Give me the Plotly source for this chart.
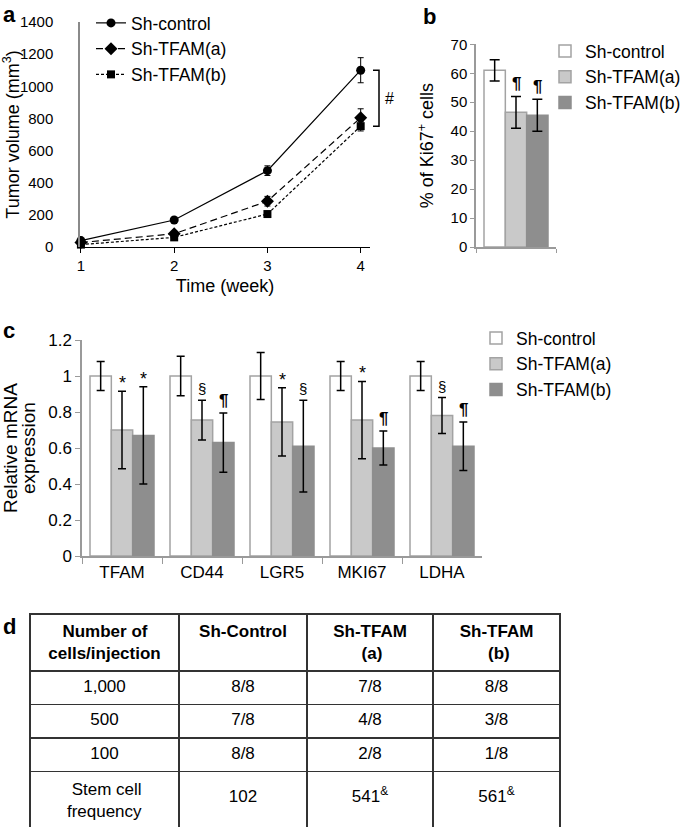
import plotly.graph_objects as go

# ---------------- data ----------------
weeks = [1, 2, 3, 4]
vol_ctrl = [40, 168, 475, 1100]
vol_ctrl_err = [10, 14, 30, 78]
vol_a = [28, 82, 285, 805]
vol_a_err = [8, 12, 30, 55]
vol_b = [15, 60, 205, 752]
vol_b_err = [5, 8, 12, 30]

groups = ["Sh-control", "Sh-TFAM(a)", "Sh-TFAM(b)"]
ki67 = [61, 46.5, 45.5]
ki67_err = [3.7, 5.5, 5.5]
ki67_sig = ["", "¶", "¶"]

genes = ["TFAM", "CD44", "LGR5", "MKI67", "LDHA"]
mrna_ctrl = [1.0, 1.0, 1.0, 1.0, 1.0]
mrna_ctrl_err = [0.08, 0.11, 0.13, 0.08, 0.08]
mrna_a = [0.70, 0.755, 0.745, 0.755, 0.78]
mrna_a_err = [0.215, 0.11, 0.19, 0.215, 0.10]
mrna_b = [0.67, 0.63, 0.61, 0.60, 0.61]
mrna_b_err = [0.27, 0.165, 0.255, 0.095, 0.135]
sig_a = ["*", "§", "*", "*", "§"]
sig_b = ["*", "¶", "§", "¶", "¶"]

table_header = ["Number of<br>cells/injection", "Sh-Control", "Sh-TFAM<br>(a)", "Sh-TFAM<br>(b)"]
table_rows = ["1,000", "500", "100", "Stem cell<br>frequency"]
table_ctrl = ["8/8", "7/8", "8/8", "102"]
table_a = ["7/8", "4/8", "2/8", "541"]
table_b = ["8/8", "3/8", "1/8", "561"]
freq_mark = "&"

# ---------------- layout helpers ----------------
W, H = 685, 827
FONT = "Liberation Sans, Arial, sans-serif"
def fx(p):
    return p / W
def fy(p):
    return 1 - p / H

bar_fill = ["white", "#c9c9c9", "#8e8e8e"]
bar_line = ["#a3a3a3", "#a3a3a3", "#8e8e8e"]
BARGAP = 0.2
LEG_FS = 17.5

# approximate Arial advance widths (em) used to centre multi-line table text
_W_REG = {" ": .278, "(": .333, ")": .333, "/": .278, "-": .333, "i": .222, "j": .222, "l": .222,
          "t": .278, "f": .278, "r": .333, "m": .833, "M": .833, "c": .5, "s": .5, "y": .5,
          "F": .611, "T": .611, "S": .667, "A": .667, "C": .722, "N": .722}
_W_BOLD = {" ": .278, "(": .333, ")": .333, "/": .278, "-": .333, "i": .278, "j": .278, "l": .278,
           "t": .333, "f": .333, "r": .389, "m": .889, "M": .833, "c": .556, "s": .556, "y": .556,
           "F": .611, "T": .611, "S": .667, "A": .722, "C": .722, "N": .722}
def _width(s, bold):
    tbl = _W_BOLD if bold else _W_REG
    return sum(tbl.get(ch, .611 if bold else .556) for ch in s)
def centre_lines(text, bold=False):
    lines = text.split("<br>")
    if len(lines) == 1:
        return text
    ws = [_width(l, bold) for l in lines]
    mx = max(ws)
    sp = _W_BOLD[" "] if bold else _W_REG[" "]
    out = []
    for l, w in zip(lines, ws):
        n = int(round((mx - w) / 2 / sp))
        out.append("\u00a0" * n + l)
    return "<br>".join(out)

fig = go.Figure()

# ---------------- panel a ----------------
line_specs = [
    (groups[0], vol_ctrl, vol_ctrl_err, "solid", "circle", 9),
    (groups[1], vol_a, vol_a_err, "7px,4px", "diamond", 10),
    (groups[2], vol_b, vol_b_err, "3px,2px", "square", 8),
]
for name, ys, es, dash, sym, ms in line_specs:
    fig.add_trace(go.Scatter(
        x=weeks, y=ys, name=name, mode="lines+markers",
        line=dict(color="black", width=1.2, dash=dash),
        marker=dict(symbol=sym, size=ms, color="black"),
        error_y=dict(type="data", array=es, color="black", thickness=1, width=3),
        xaxis="x", yaxis="y", legend="legend", cliponaxis=False,
    ))

# ---------------- panel b ----------------
for i, g in enumerate(groups):
    fig.add_trace(go.Bar(
        x=["Ki67"], y=[ki67[i]], name=g,
        marker=dict(color=bar_fill[i], line=dict(color=bar_line[i], width=1.5)),
        error_y=dict(type="data", array=[ki67_err[i]], color="black", thickness=1.5, width=5),
        xaxis="x2", yaxis="y2", legend="legend2",
    ))

# ---------------- panel c ----------------
c_vals = [(mrna_ctrl, mrna_ctrl_err), (mrna_a, mrna_a_err), (mrna_b, mrna_b_err)]
for i, g in enumerate(groups):
    v, e = c_vals[i]
    fig.add_trace(go.Bar(
        x=genes, y=v, name=g,
        marker=dict(color=bar_fill[i], line=dict(color=bar_line[i], width=1.5)),
        error_y=dict(type="data", array=e, color="black", thickness=1.5, width=4),
        xaxis="x3", yaxis="y3", legend="legend3",
    ))

# ---------------- panel d (table) ----------------
hdr = ["<b>" + centre_lines(h, bold=True) + "</b>" for h in table_header]
def last_bottom(col, mark=""):
    out = list(col)
    out[-1] = "<br>" + out[-1] + (("<sup>" + mark + "</sup>") if mark else "")
    return out
fig.add_trace(go.Table(
    domain=dict(x=[fx(30), fx(560)], y=[0, fy(614)]),
    columnwidth=[149, 128, 126, 127],
    header=dict(values=hdr, height=56, align="center",
                line=dict(color="#333", width=1.5), fill=dict(color="white"),
                font=dict(family=FONT, size=17, color="black")),
    cells=dict(values=[[centre_lines(r) for r in table_rows], last_bottom(table_ctrl),
                       last_bottom(table_a, freq_mark), last_bottom(table_b, freq_mark)],
               height=33.5, align="center",
               line=dict(color="#333", width=1.5), fill=dict(color="white"),
               font=dict(family=FONT, size=17, color="black")),
))

# ---------------- annotations ----------------
ann = []
for lab, x, y in [("a", 1, 0), ("b", 421, 2), ("c", 1, 316), ("d", 1, 612)]:
    ann.append(dict(text="<b>" + lab + "</b>", x=fx(x), y=fy(y), xref="paper", yref="paper",
                    xanchor="left", yanchor="top", showarrow=False,
                    font=dict(family=FONT, size=22, color="black")))

# panel c y-axis title (two tightly spaced lines)
for line_txt, xc in [("Relative mRNA", 10), ("expression", 28)]:
    ann.append(dict(text=line_txt, x=fx(xc), y=fy(448), xref="paper", yref="paper",
                    xanchor="center", yanchor="middle", textangle=-90, showarrow=False,
                    font=dict(family=FONT, size=19, color="black")))

# bracket + '#' in panel a
ya0, ya1 = fy(247), fy(22)
def ypa(v):
    return ya0 + v / 1400 * (ya1 - ya0)
ann.append(dict(text="#", x=fx(383), y=(ypa(vol_ctrl[-1]) + ypa(vol_b[-1])) / 2, xref="paper", yref="paper",
                xanchor="left", yanchor="middle", showarrow=False,
                font=dict(family=FONT, size=16, color="black")))

def sig_text(s):
    return "<b>" + s + "</b>" if s == "¶" else s

def sig_font(s):
    if s == "¶":
        return dict(family=FONT, size=17, color="black")
    if s == "*":
        return dict(family=FONT, size=18, color="black")
    return dict(family=FONT, size=15, color="black")

# significance marks, panel b
bw_b = 80 * (1 - BARGAP) / 3
for i, s in enumerate(ki67_sig):
    if s:
        ann.append(dict(text=sig_text(s), x="Ki67", y=ki67[i] + ki67_err[i], xref="x2", yref="y2",
                        xshift=(i - 1) * bw_b, yshift=1, yanchor="bottom", showarrow=False,
                        font=sig_font(s)))

# significance marks, panel c
bw_c = 80 * (1 - BARGAP) / 3
for j, g in enumerate(genes):
    for i, (sig, v, e) in enumerate([(sig_a[j], mrna_a[j], mrna_a_err[j]),
                                     (sig_b[j], mrna_b[j], mrna_b_err[j])]):
        ann.append(dict(text=sig_text(sig), x=g, y=v + e, xref="x3", yref="y3",
                        xshift=i * bw_c, yshift=(-4 if sig == "*" else 1), yanchor="bottom",
                        showarrow=False, font=sig_font(sig)))

shapes = [dict(type="path", xref="paper", yref="paper",
               path=f"M {fx(373)} {ypa(vol_ctrl[-1])} L {fx(379)} {ypa(vol_ctrl[-1])} "
                    f"L {fx(379)} {ypa(vol_b[-1])} L {fx(373)} {ypa(vol_b[-1])}",
               line=dict(color="black", width=1.5))]

leg_common = dict(xanchor="left", yanchor="top", bgcolor="rgba(0,0,0,0)",
                  font=dict(family=FONT, size=LEG_FS, color="black"), tracegroupgap=0)

fig.update_layout(
    width=W, height=H, margin=dict(l=0, r=0, t=0, b=0, autoexpand=False),
    paper_bgcolor="white", plot_bgcolor="white",
    font=dict(family=FONT, color="black"),
    barmode="group", bargap=BARGAP, bargroupgap=0,
    showlegend=True,
    legend=dict(x=fx(91), y=fy(5), **leg_common),
    legend2=dict(x=fx(545), y=fy(33), **leg_common),
    legend3=dict(x=fx(476), y=fy(320), **leg_common),
    xaxis=dict(domain=[fx(80), fx(370)], range=[0.99, 4.1], tickvals=weeks,
               showline=True, linecolor="black", linewidth=1.2, ticks="outside", ticklen=5,
               tickcolor="black", showgrid=False, zeroline=False, automargin=False,
               tickfont=dict(size=15), anchor="y",
               title=dict(text="Time (week)", font=dict(size=18), standoff=6)),
    yaxis=dict(domain=[fy(247), fy(22)], range=[0, 1400], dtick=200,
               showline=True, linecolor="#8a8a8a", linewidth=1.5, ticks="",
               showgrid=False, zeroline=False, tickfont=dict(size=15), automargin=False,
               ticklabelstandoff=22, anchor="x",
               title=dict(text="Tumor volume (mm<sup>3</sup>)", font=dict(size=18), standoff=10)),
    xaxis2=dict(domain=[fx(476), fx(556)], type="category", tickson="boundaries",
                showline=True, linecolor="#9a9a9a", linewidth=1.5, ticks="outside", ticklen=4,
                tickcolor="#9a9a9a", showticklabels=False, showgrid=False, anchor="y2",
                automargin=False),
    yaxis2=dict(domain=[fy(247), fy(44.3)], range=[0, 70], dtick=10,
                showline=True, linecolor="#9a9a9a", linewidth=1.5, ticks="outside", ticklen=4,
                tickcolor="#9a9a9a", showgrid=False, zeroline=False, tickfont=dict(size=15),
                anchor="x2", automargin=False,
                title=dict(text="% of Ki67<sup>+</sup> cells", font=dict(size=18), standoff=12)),
    xaxis3=dict(domain=[fx(82), fx(482)], type="category", tickson="boundaries",
                showline=True, linecolor="#9a9a9a", linewidth=1.5, ticks="outside", ticklen=6,
                tickcolor="#9a9a9a", showgrid=False, tickfont=dict(size=17), anchor="y3",
                automargin=False),
    yaxis3=dict(domain=[fy(556), fy(340)], range=[0, 1.2], dtick=0.2,
                showline=True, linecolor="#9a9a9a", linewidth=1.5, ticks="outside", ticklen=5,
                tickcolor="#9a9a9a", showgrid=False, zeroline=False, tickfont=dict(size=17),
                anchor="x3", automargin=False),
    annotations=ann,
    shapes=shapes,
)

fig.write_html("out.html", config={"displayModeBar": False},
               post_script="document.body.style.margin='0px';")
